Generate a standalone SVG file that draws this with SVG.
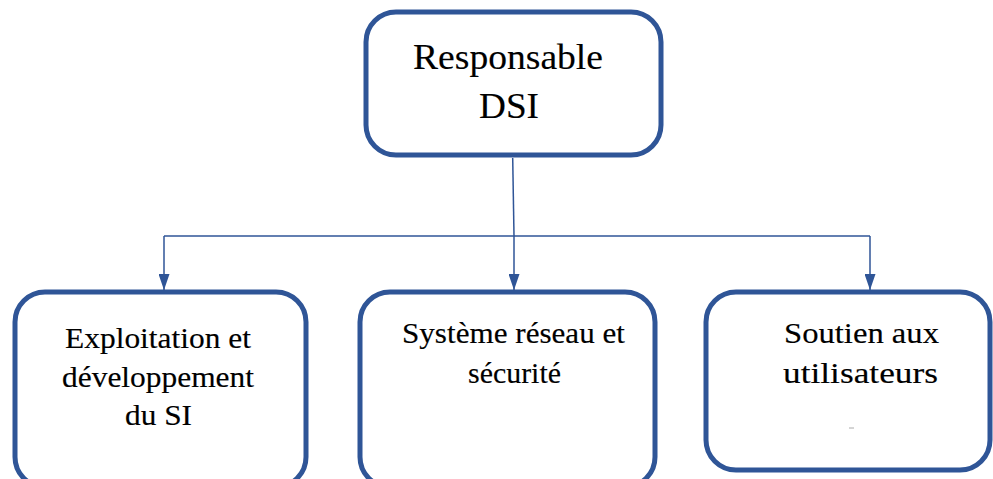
<svg xmlns="http://www.w3.org/2000/svg" width="993" height="479" viewBox="0 0 993 479">
<style>
.box{fill:#fff;stroke:#2F5597;stroke-width:5}
.t{font-family:"Liberation Serif","Times New Roman",serif;fill:#000;stroke:#000;stroke-width:0.15;text-anchor:middle}
.top{font-size:36px}
.sub{font-size:29.5px}
.con{fill:none;stroke:#2F5597;stroke-width:1.5}
</style>
<defs>
<marker id="ah" markerUnits="userSpaceOnUse" markerWidth="16" markerHeight="11" refX="16" refY="5.5" orient="auto">
<path d="M0,0 L16,5.5 L0,11 Z" fill="#2F5597"/>
</marker>
</defs>
<rect width="993" height="479" fill="#fff"/>
<g id="connectors">
<path class="con" d="M512.7,158 L514,236"/>
<path class="con" d="M164,236 L870,236"/>
<path class="con" d="M164,236 L164,290" marker-end="url(#ah)"/>
<path class="con" d="M514,236 L514,290" marker-end="url(#ah)"/>
<path class="con" d="M870,236 L870,290" marker-end="url(#ah)"/>
</g>
<g id="n-dsi">
<rect class="box" x="366" y="12" width="295" height="143" rx="30"/>
<text class="t top" x="508" y="69" textLength="190" lengthAdjust="spacingAndGlyphs">Responsable</text>
<text class="t top" x="509" y="118" textLength="60" lengthAdjust="spacingAndGlyphs">DSI</text>
</g>
<g id="n-exploitation">
<rect class="box" x="15" y="292" width="291" height="195" rx="30"/>
<text class="t sub" x="158" y="348" textLength="186" lengthAdjust="spacingAndGlyphs">Exploitation et</text>
<text class="t sub" x="158" y="387" textLength="192" lengthAdjust="spacingAndGlyphs">développement</text>
<text class="t sub" x="158.5" y="425" textLength="67" lengthAdjust="spacingAndGlyphs">du SI</text>
</g>
<g id="n-reseau">
<rect class="box" x="360" y="292" width="295" height="195" rx="30"/>
<text class="t sub" x="513.5" y="343" textLength="223" lengthAdjust="spacingAndGlyphs">Système réseau et</text>
<text class="t sub" x="514.5" y="383" textLength="93" lengthAdjust="spacingAndGlyphs">sécurité</text>
</g>
<g id="n-soutien">
<rect class="box" x="706" y="292" width="284" height="178" rx="30"/>
<text class="t sub" x="861.5" y="343" textLength="155" lengthAdjust="spacingAndGlyphs">Soutien aux</text>
<text class="t sub" x="860.5" y="383" textLength="155" lengthAdjust="spacingAndGlyphs">utilisateurs</text>
<line x1="849" y1="428" x2="854" y2="428" stroke="#aaa" stroke-width="1"/>
</g>
</svg>
